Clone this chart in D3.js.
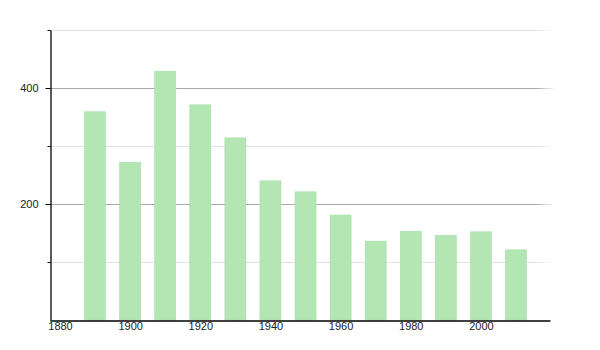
<html>
<head>
<style>
  body { margin: 0; background: #fff; }
  text { font-family: "Liberation Sans", Arial, sans-serif; font-size: 11px; fill: #222; }
</style>
<script src="https://d3js.org/d3.v7.min.js"></script>
</head>
<body>
<div id="chart"></div>
<script>
// population per census year
var years = [1890, 1900, 1910, 1920, 1930, 1940, 1950, 1960, 1970, 1980, 1990, 2000, 2010];
var values = [359, 272, 429, 371, 314, 240, 221, 181, 136, 153, 146, 152, 121];
var xTicks = [1880, 1900, 1920, 1940, 1960, 1980, 2000];
var yMajor = [200, 400];
var yMinor = [100, 300, 500];

var width = 600, height = 350;
var svg = d3.select("#chart").append("svg").attr("width", width).attr("height", height);

var x = d3.scaleLinear().domain([1877.15, 2019.7]).range([50, 550]);
var y = d3.scaleLinear().domain([0, 500]).range([320, 30]);

// gridlines, fading out at the right end
var fade = svg.append("defs").append("linearGradient").attr("id", "fade")
   .attr("gradientUnits", "userSpaceOnUse").attr("x1", 50).attr("x2", 556).attr("y1", 0).attr("y2", 0);
fade.append("stop").attr("offset", "0.96").attr("stop-color", "#fff").attr("stop-opacity", 1);
fade.append("stop").attr("offset", "1").attr("stop-color", "#fff").attr("stop-opacity", 0);
var mask = svg.select("defs").append("mask").attr("id", "gridmask");
mask.append("rect").attr("x", 50).attr("y", 0).attr("width", 506).attr("height", 350).attr("fill", "url(#fade)");

var grid = svg.append("g").attr("mask", "url(#gridmask)");
grid.selectAll(".minor").data(yMinor).enter().append("line")
   .attr("x1", 50).attr("x2", 556)
   .attr("y1", function(d) { return y(d) + 0.5 }).attr("y2", function(d) { return y(d) + 0.5 })
   .attr("stroke", "#e2e2e2").attr("stroke-width", 1);
grid.selectAll(".major").data(yMajor).enter().append("line")
   .attr("x1", 50).attr("x2", 556)
   .attr("y1", function(d) { return y(d) + 0.5 }).attr("y2", function(d) { return y(d) + 0.5 })
   .attr("stroke", "#aaaaaa").attr("stroke-width", 1);

// bars
var bw = 21;
svg.selectAll(".bar").data(years).enter().append("rect")
   .attr("x", function(d) { return x(d) - bw / 2 })
   .attr("y", function(d, i) { return y(values[i]) })
   .attr("width", bw)
   .attr("height", function(d, i) { return y(0) - y(values[i]) })
   .attr("fill", "#b3e6b3")
   .attr("stroke", "#a9dcab").attr("stroke-width", 0.6);

// y axis
var yAxis = d3.axisLeft(y).tickValues(yMajor).tickSize(5).tickSizeOuter(0);
var gy = svg.append("g").attr("transform", "translate(50.5,0)").call(yAxis);
gy.select(".domain").attr("stroke", "#000").attr("stroke-width", 1.3);
gy.selectAll(".tick line").attr("stroke", "#000");
gy.selectAll(".tick text").attr("x", -12).style("font-size", "11px").attr("fill", "#222");
gy.selectAll(".minorTick").data(yMinor).enter().append("line").attr("class", "minorTick")
   .attr("x1", -3).attr("x2", 0)
   .attr("y1", function(d) { return y(d) + 0.5 }).attr("y2", function(d) { return y(d) + 0.5 })
   .attr("stroke", "#000");

// x axis
var xAxis = d3.axisBottom(x).tickValues(xTicks).tickFormat(d3.format("d")).tickSize(0).tickSizeOuter(0);
var gx = svg.append("g").attr("transform", "translate(0,320.5)").call(xAxis);
gx.select(".domain").attr("stroke", "#000").attr("stroke-width", 1.3);
gx.selectAll(".tick text").attr("y", 2).style("font-size", "11px").attr("fill", "#222");
</script>
</body>
</html>
